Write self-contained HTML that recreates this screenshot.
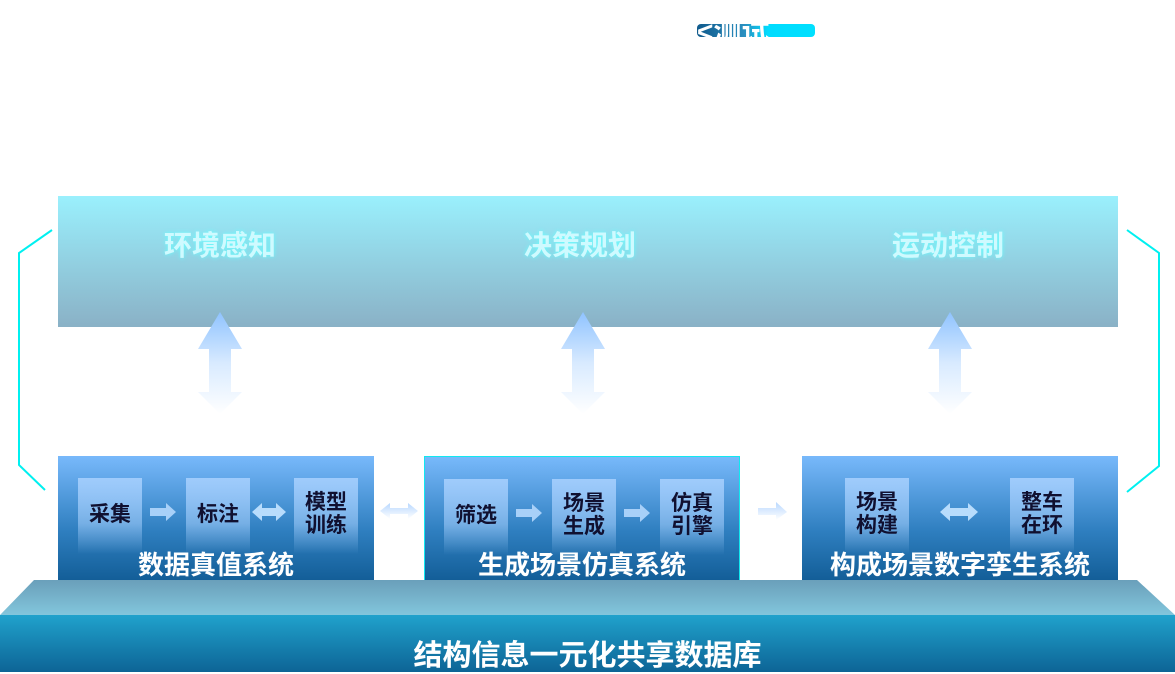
<!DOCTYPE html>
<html><head><meta charset="utf-8"><style>
html,body{margin:0;padding:0;background:#fff;}
body{width:1175px;height:672px;position:relative;overflow:hidden;font-family:"Liberation Sans","Noto Sans CJK SC",sans-serif;}
.a{position:absolute;}
.top{left:58px;top:196px;width:1060px;height:131px;background:linear-gradient(#9af0fd,#8ab1c6);}
.tt{position:absolute;top:28px;font-size:28px;font-weight:bold;color:#cffaff;text-shadow:0 0 4px #6ff;width:220px;text-align:center;}
.box{top:456px;height:124px;background:linear-gradient(#78b9fb,#2f7fc0 60%,#135e98);}
.cell{position:absolute;top:22px;width:64px;height:76px;background:linear-gradient(rgba(170,210,255,.85),rgba(170,210,255,.55) 60%,rgba(170,210,255,0));color:#101030;font-size:21px;font-weight:bold;line-height:23px;display:flex;align-items:center;justify-content:center;text-align:center;padding-bottom:4px;box-sizing:border-box;}
.bt{position:absolute;left:0;right:0;bottom:-2px;text-align:center;color:#fff;font-size:26px;font-weight:bold;white-space:nowrap;}
</style></head><body>
<div class="a" style="left:697px;top:24px;width:118px;height:13px;border-radius:4px;background:linear-gradient(90deg,#105a8c,#2a8fc0 40%,#00dcff 60%,#00e0ff);overflow:hidden;"><span style="position:absolute;left:0;top:-14px;color:#fff;font-size:28px;font-weight:bold;">&lt;测试</span></div>

<div class="a top">
<div class="tt" style="left:52px">环境感知</div>
<div class="tt" style="left:412px">决策规划</div>
<div class="tt" style="left:780px">运动控制</div>
</div>

<svg class="a" style="left:0;top:0" width="1175" height="672">
<defs>
<linearGradient id="ua" x1="0" y1="0" x2="0" y2="1"><stop offset="0" stop-color="#8fc3ff"/><stop offset="0.5" stop-color="#d8eaff"/><stop offset="1" stop-color="#fff"/></linearGradient>
<linearGradient id="pl" x1="0" y1="0" x2="0" y2="1"><stop offset="0" stop-color="#6a9fba"/><stop offset="1" stop-color="#82c6dc"/></linearGradient>
<linearGradient id="bs" x1="0" y1="0" x2="0" y2="1"><stop offset="0" stop-color="#20a2cc"/><stop offset="1" stop-color="#0d6496"/></linearGradient>
<linearGradient id="ha" x1="0" y1="0" x2="0" y2="1"><stop offset="0" stop-color="#b8d8ff"/><stop offset="1" stop-color="#fff"/></linearGradient>
</defs>
<g fill="url(#ua)">
<path d="M220 312 L242 349 L231 349 L231 392 L242 392 L220 414 L198 392 L209 392 L209 349 L198 349Z"/>
<path d="M583 312 L605 349 L594 349 L594 392 L605 392 L583 414 L561 392 L572 392 L572 349 L561 349Z"/>
<path d="M950 312 L972 349 L961 349 L961 392 L972 392 L950 414 L928 392 L939 392 L939 349 L928 349Z"/>
</g>
<g fill="none" stroke="#00f0f0" stroke-width="2">
<polyline points="52,230 19,253 19,465 45,490"/>
<polyline points="1127,230 1159,253 1159,466 1127,492"/>
</g>
<polygon points="34,580 1137,580 1175,615 0,615" fill="url(#pl)"/>
<rect x="0" y="615" width="1175" height="57" fill="url(#bs)"/>
<path d="M380 511 L390 503 L390 508 L408 508 L408 503 L418 511 L408 519 L408 514 L390 514 L390 519Z" fill="url(#ha)"/>
<path d="M758 508 L776 508 L776 502 L787 512 L776 520 L776 515 L758 515Z" fill="url(#ha)"/>
</svg>

<div class="a box" style="left:58px;width:316px;">
<div class="cell" style="left:20px">采集</div>
<div class="cell" style="left:128px">标注</div>
<div class="cell" style="left:236px">模型<br>训练</div>
<svg class="a" style="left:90px;top:44px" width="140" height="24"><path d="M2 8 L18 8 L18 3 L28 12 L18 21 L18 16 L2 16Z" fill="#a8d0f8"/><path d="M104 12 L114 3 L114 8 L128 8 L128 3 L138 12 L128 21 L128 16 L114 16 L114 21Z" fill="#b8dcfc"/></svg>
<div class="bt">数据真值系统</div>
</div>
<div class="a box" style="left:424px;width:316px;box-sizing:border-box;border:1px solid #10e8f0;border-bottom:none;">
<div class="cell" style="left:19px">筛选</div>
<div class="cell" style="left:127px">场景<br>生成</div>
<div class="cell" style="left:235px">仿真<br>引擎</div>
<svg class="a" style="left:89px;top:44px" width="140" height="24"><path d="M2 8 L18 8 L18 3 L28 12 L18 21 L18 16 L2 16Z" fill="#a8d0f8"/><path d="M110 8 L126 8 L126 3 L136 12 L126 21 L126 16 L110 16Z" fill="#a8d0f8"/></svg>
<div class="bt">生成场景仿真系统</div>
</div>
<div class="a box" style="left:802px;width:316px;">
<div class="cell" style="left:43px">场景<br>构建</div>
<div class="cell" style="left:208px">整车<br>在环</div>
<svg class="a" style="left:136px;top:44px" width="44" height="24"><path d="M2 12 L12 3 L12 8 L30 8 L30 3 L40 12 L30 21 L30 16 L12 16 L12 21Z" fill="#b8dcfc"/></svg>
<div class="bt">构成场景数字孪生系统</div>
</div>

<div class="a" style="left:0;top:632px;width:1175px;text-align:center;color:#fff;font-size:29px;font-weight:bold;">结构信息一元化共享数据库</div>
</body></html>
